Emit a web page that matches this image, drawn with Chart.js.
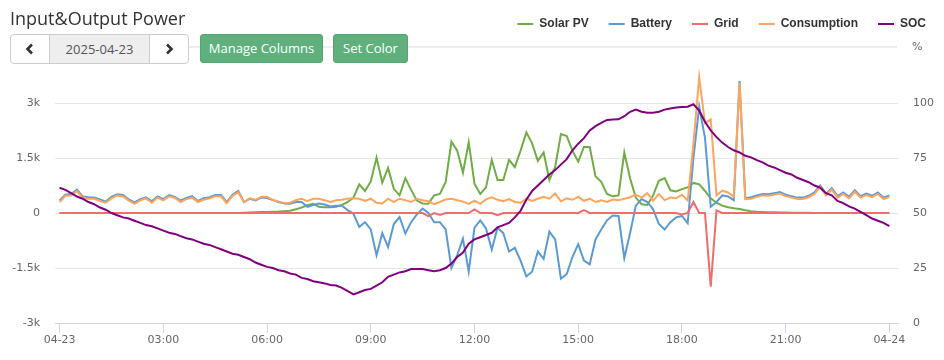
<!DOCTYPE html>
<html>
<head>
<meta charset="utf-8">
<title>Input&amp;Output Power</title>
<script src="https://cdn.jsdelivr.net/npm/chart.js@4.4.1/dist/chart.umd.min.js"></script>
<style>
  body { margin: 0; background: #fff; font-family: "Open Sans", sans-serif; }
  #wrap { position: relative; width: 944px; height: 360px; overflow: hidden; }
  #meinChart { position: absolute; left: 0; top: 0; }
  .title { position: absolute; left: 10px; top: 5px; font-size: 18px; color: #333; line-height: 26px; }
  .sep { position: absolute; left: 189px; top: 46px; width: 708px; height: 2px; background: #ececec; }
  .dgroup { position: absolute; left: 10px; top: 34px; width: 177px; height: 28px; border: 1px solid #ccc;
            border-radius: 4px; display: flex; overflow: hidden; background: #fff; }
  .nav { width: 39px; display: flex; align-items: center; justify-content: center; }
  .datefield { width: 100px; background: #eee; border-left: 1px solid #ccc; border-right: 1px solid #ccc;
               text-align: center; line-height: 28px; font-size: 13px; color: #555; }
  .btn { position: absolute; top: 34px; height: 27px; line-height: 27px; border: 1px solid #55a472; border-radius: 3px;
         background: #5fb07c; color: #fff; font-size: 13px; text-align: center; }
  .pct { position: absolute; left: 912px; top: 40px; font: 11px "DejaVu Sans", sans-serif; color: #666; }
</style>
</head>
<body>
<div id="wrap">
  <canvas id="meinChart" width="944" height="360"></canvas>
  <div class="title">Input&amp;Output Power</div>
  <div class="sep"></div>
  <div class="dgroup">
    <div class="nav"><svg width="10" height="12" viewBox="0 0 10 12"><polyline points="7,1.5 2.5,6 7,10.5" fill="none" stroke="#333" stroke-width="2.6"/></svg></div>
    <div class="datefield">2025-04-23</div>
    <div class="nav"><svg width="10" height="12" viewBox="0 0 10 12"><polyline points="3,1.5 7.5,6 3,10.5" fill="none" stroke="#333" stroke-width="2.6"/></svg></div>
  </div>
  <div class="btn" style="left:200px;width:121px;">Manage Columns</div>
  <div class="btn" style="left:333px;width:73px;">Set Color</div>
  <div class="pct">%</div>
</div>
<script>
// minutes since 00:00, one sample every 10 min
const times = [];
for (let i = 0; i <= 144; i++) times.push(i * 10);

const tickMinutes = [0, 180, 360, 540, 720, 900, 1080, 1260, 1440];
const tickLabels = ['04-23', '03:00', '06:00', '09:00', '12:00', '15:00', '18:00', '21:00', '04-24'];

const seriesNames = ['Solar PV', 'Battery', 'Grid', 'Consumption', 'SOC'];
const seriesColors = ['#70ad47', '#5b9bd5', '#f36b6b', '#ffa45c', '#800080'];

// W
const solarPV = [
  0, 0, 0, 0, 0, 0, 0, 0, 0, 0, 0, 0, 0, 0, 0, 0, 0, 0, 0, 0, 0, 0, 0, 0, 0, 0, 0, 0, 0, 0, 0, 0,
  10, 15, 20, 25, 30, 35, 40, 50, 60,
  100, 150, 210, 250, 170, 160, 160, 170, 220, 300,
  420, 780, 600, 860, 1510, 830, 1230, 660, 480, 950,
  630, 340, 260, 255, 480, 520, 850, 1950, 1700, 1100,
  1930, 800,
  520, 700, 1450, 900, 900, 1450, 1250, 1700, 2200, 1900,
  1420, 1650, 900, 1250, 2150, 2100, 1700, 1400, 1800, 1800,
  1000, 850, 520, 455, 480, 1650, 950,
  420, 240, 220, 480, 880, 950, 620, 590, 650, 700,
  820, 780, 600, 400, 280, 200, 155, 130, 110, 75,
  50, 35, 28, 22, 18, 14, 11, 9, 7, 5,
  4, 3, 2, 1, 0, 0, 0, 0, 0, 0,
  0, 0, 0, 0, 0
];
const battery = [
  340, 500, 520, 640, 450, 430, 420, 370, 310, 440,
  510, 490, 370, 290, 380, 430, 320, 450, 380, 490,
  440, 340, 410, 460, 330, 400, 430, 490, 490, 300,
  500, 600, 300, 390, 345, 420, 410, 350, 300, 260,
  250, 300, 300, 170, 220, 260, 230, 180, 200, 200,
  80, -20, -380, -250, -450, -1150, -550, -930, -300, -110,
  -560, -250, -40, 120, 0, -250, -250, -450, -1500, -1150,
  -700, -1600, -400, -200, -420, -1000, -400, -550, -1050, -950,
  -1300, -1730, -1600, -1050, -1250, -510, -720, -1790, -1670, -1200,
  -850, -1300, -1400, -720, -450, -200, -70, -80, -1230, -550,
  200, 380, 300, 100, -300, -450, -250, -120, -80, -280,
  1500, 2900, 2050, 170, 300, 480, 450, 350, 3600, 400,
  430, 480, 520, 510, 540, 570, 500, 460, 420, 420,
  470, 560, 750, 520, 680, 460, 560, 440, 620, 460,
  530, 470, 560, 420, 480
];
const grid = [
  0, 0, 0, 0, 0, 0, 0, 0, 0, 0, 0, 0, 0, 0, 0, 0, 0, 0, 0, 0,
  0, 0, 0, 0, 0, 0, 0, 0, 0, 0, 0, 0, 0, 0, 0, 0, 0, 0, 0, 0,
  0, 0, 0, 0, 0, 0, 0, 0, 0, 0, 0, 0, 0, 0, 0, 0, 0, 0, 0, 0,
  0, 0, 0, 0, -85, 0, -55, 0, 0, 0,
  0, 0, 95, 0, 0, 0, -60, 0, 0, 0,
  0, 0, 0, 0, 0, 0, 0, 0, 0, 0,
  0, 80, 0, 0, 0, 0, 0, 0, 0, 0,
  0, 0, 0, 0, 0, 0, 0, 0, -40, 0,
  300, 0, 0, -2010, 70, 0, 0, 0, 0, 0,
  0, 0, 0, 0, 0, 0, 0, 0, 0, 0,
  0, 0, 0, 0, 0, 0, 0, 0, 0, 0,
  0, 0, 0, 0, 0
];
const consumption = [
  300, 470, 480, 600, 420, 390, 390, 330, 280, 400,
  480, 450, 340, 250, 345, 400, 280, 420, 345, 455,
  410, 300, 380, 420, 300, 360, 400, 455, 455, 270,
  470, 560, 300, 400, 360, 440, 440, 360, 310, 270,
  280, 350, 390, 320, 390, 390, 350, 300, 345, 360,
  390, 400, 390, 330, 390, 280, 260, 390, 300, 390,
  350, 300, 390, 350, 320, 240, 300, 370, 390, 350,
  310, 250, 340, 250, 370, 430, 360, 320, 380, 300,
  280, 390, 330, 390, 440, 390, 530, 320, 400, 360,
  440, 330, 390, 300, 345, 300, 365, 345, 390, 430,
  500, 420, 540, 330, 520, 350, 420, 400, 500, 340,
  1900, 3700, 2450, 2550, 480, 610, 560, 440, 3550, 380,
  390, 440, 480, 470, 500, 530, 460, 420, 380, 380,
  430, 520, 710, 480, 640, 420, 520, 400, 580, 420,
  490, 430, 520, 380, 440
];
// %
const soc = [
  61.5, 60.5, 59, 57.5, 56.5, 55, 54, 52.5, 51.5, 50,
  49, 48, 47.5, 46.5, 45.5, 44.5, 44, 43, 42, 41,
  40.5, 39.5, 38.5, 38, 37, 36, 35.5, 34.5, 33.5, 32.5,
  31.5, 31, 30, 29, 27.5, 26.5, 25.5, 25, 24, 23.5,
  22.5, 22, 20.5, 20, 19, 18.5, 18, 17.3, 17, 16,
  14.5, 13, 14, 15, 15.5, 17, 18.5, 21, 22, 23,
  23.5, 24.5, 24.5, 24.5, 24, 23.5, 24, 25, 27, 30,
  32, 36, 38, 39, 40, 41, 43.5, 44.5, 45.5, 48,
  51, 56, 60, 62.5, 65, 67.5, 69.5, 72, 74.5, 78.5,
  81.5, 84, 87.5, 89.5, 91, 92.3, 92.5, 92.6, 94, 96,
  97, 96, 95.6, 95.6, 96, 97, 97.5, 98, 98.2, 98.3,
  99.4, 96.5, 91.5, 87.5, 84.5, 82, 80, 78.5, 77.5, 76,
  75.3, 74, 73, 71.5, 70.7, 69.5, 68.3, 67.5, 66, 65,
  64, 62.5, 61.5, 59, 58, 55.5, 54.5, 53, 52, 50.5,
  49, 47.5, 46.5, 45.5, 44
];

const values = [solarPV, battery, grid, consumption, soc];
const axisFont = { family: 'DejaVu Sans', size: 11 };

// make room above the plot for the title row and buttons
const legendSpace = {
  id: 'legendSpace',
  beforeInit(chart) {
    const fit = chart.legend.fit;
    chart.legend.fit = function () {
      fit.call(this);
      this.height = 105;
    };
  }
};

const data = {
  datasets: seriesNames.map((name, k) => ({
    label: name,
    data: times.map((t, i) => ({ x: t, y: values[k][i] })),
    borderColor: seriesColors[k],
    backgroundColor: seriesColors[k],
    borderWidth: 2,
    pointRadius: 0,
    tension: 0,
    clip: false,
    yAxisID: k === 4 ? 'y1' : 'y',
    order: 5 - k
  }))
};

const config = {
  type: 'line',
  data: data,
  options: {
    responsive: false,
    animation: false,
    events: [],
    layout: { padding: { top: -2, right: -2, left: 0, bottom: 0 } },
    plugins: {
      tooltip: { enabled: false },
      legend: {
        position: 'top',
        align: 'end',
        labels: {
          usePointStyle: true,
          pointStyle: 'line',
          pointStyleWidth: 16,
          padding: 20,
          color: '#333',
          font: { family: 'Liberation Sans', size: 12, weight: 'bold' },
          sort: (a, b) => a.datasetIndex - b.datasetIndex
        }
      }
    },
    scales: {
      x: {
        type: 'linear',
        min: -8,
        max: 1455,
        afterBuildTicks: (axis) => { axis.ticks = tickMinutes.map(v => ({ value: v })); },
        afterFit: (axis) => { axis.height = 37; },
        ticks: {
          autoSkip: false,
          maxRotation: 0,
          padding: 1,
          color: '#666',
          font: axisFont,
          callback: (v) => tickLabels[tickMinutes.indexOf(v)]
        },
        grid: { drawOnChartArea: false, drawTicks: true, tickLength: 10, color: '#ccd6eb' },
        border: { display: true, color: '#ccd6eb' }
      },
      y: {
        position: 'left',
        min: -3000,
        max: 3000,
        afterFit: (axis) => { axis.width = 55; },
        ticks: {
          stepSize: 1500,
          padding: 15,
          color: '#666',
          font: axisFont,
          callback: (v) => v === 0 ? '0' : (v / 1000) + 'k'
        },
        grid: { color: '#e6e6e6', drawTicks: false },
        border: { display: false }
      },
      y1: {
        position: 'right',
        min: 0,
        max: 100,
        afterFit: (axis) => { axis.width = 48; },
        ticks: { stepSize: 25, padding: 15, color: '#666', font: axisFont },
        grid: { drawOnChartArea: false, drawTicks: false },
        border: { display: false }
      }
    }
  },
  plugins: [legendSpace]
};

const myChart = new Chart(document.getElementById('meinChart'), config);
</script>
</body>
</html>
